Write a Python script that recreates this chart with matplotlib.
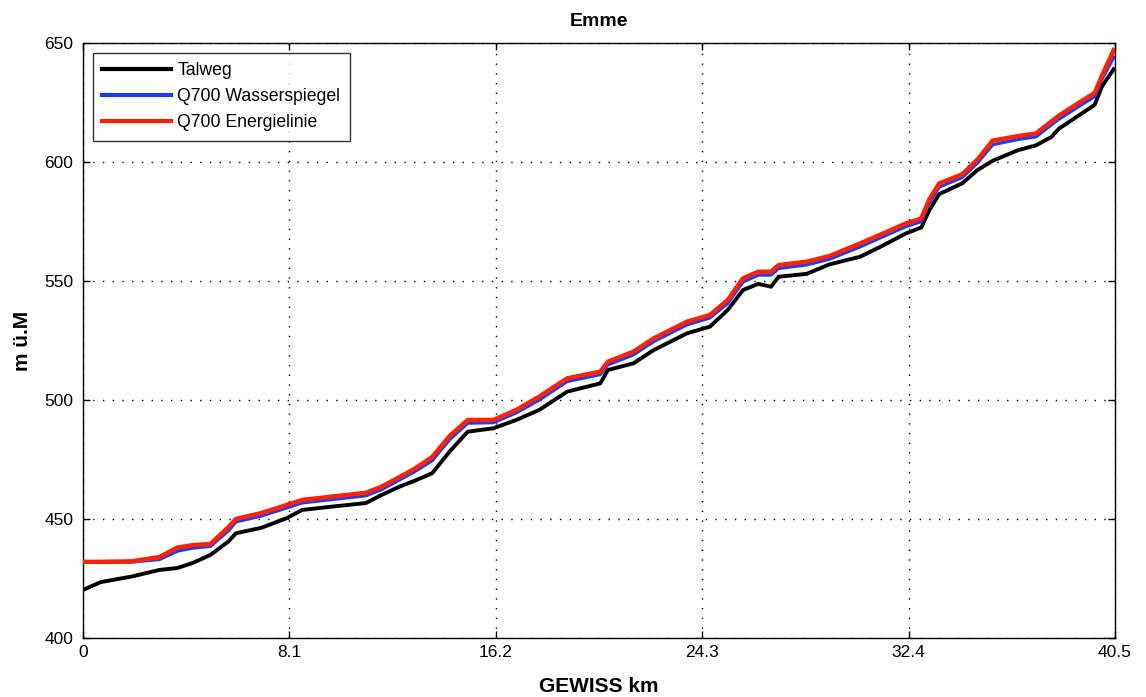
import matplotlib
matplotlib.use("Agg")
import matplotlib.pyplot as plt

km = [0, 0.7, 1.9, 3.0, 3.7, 4.3, 5.0, 5.7, 6.0, 7.0, 8.0, 8.6, 9.6, 11.1, 11.7,
      12.4, 13.0, 13.7, 14.4, 15.1, 16.1, 17.0, 17.9, 19.0, 20.3, 20.6, 21.6, 22.4,
      23.7, 24.6, 25.3, 25.9, 26.5, 27.0, 27.3, 28.4, 29.3, 30.5, 31.3, 32.3, 32.9,
      33.2, 33.6, 34.5, 35.1, 35.7, 36.7, 37.4, 38.0, 38.3, 39.1, 39.7, 40.0, 40.45]

talweg = [420.2, 423.5, 425.8, 428.6, 429.4, 431.5, 434.9, 440.5, 444.0, 446.3, 450.4,
          453.8, 455.0, 456.7, 460.0, 463.5, 466.0, 469.2, 478.5, 486.7, 488.1, 491.6,
          495.8, 503.5, 507.0, 512.6, 515.4, 521.0, 528.0, 530.8, 537.8, 546.2, 548.8,
          547.6, 551.8, 553.0, 557.0, 560.2, 564.4, 570.0, 572.5, 579.5, 586.5, 591.0,
          596.6, 600.5, 605.0, 607.0, 610.5, 614.0, 619.7, 624.0, 632.0, 639.0]

wasserspiegel = [431.9, 431.9, 431.9, 433.0, 436.5, 437.8, 438.5, 445.0, 448.8, 451.3,
                 454.7, 456.8, 458.0, 459.8, 462.3, 466.3, 469.8, 474.5, 483.5, 490.3,
                 490.5, 494.6, 500.0, 507.8, 510.7, 514.8, 519.0, 524.6, 531.6, 534.5,
                 540.6, 549.6, 552.5, 552.5, 555.3, 556.8, 559.2, 564.4, 568.2, 572.9,
                 575.0, 582.5, 589.5, 593.5, 599.6, 607.3, 609.5, 610.6, 615.6, 618.0,
                 623.5, 627.5, 635.0, 644.0]

energielinie = [432.0, 432.0, 432.2, 434.0, 438.0, 439.0, 439.5, 446.5, 450.0, 452.5,
                455.9, 458.0, 459.2, 461.0, 463.5, 467.5, 471.0, 476.0, 485.0, 491.6,
                491.6, 495.8, 501.4, 509.1, 511.9, 516.1, 520.3, 525.9, 532.9, 535.7,
                542.0, 551.1, 553.9, 553.9, 556.7, 558.1, 560.5, 565.8, 569.5, 574.2,
                576.3, 584.0, 591.0, 594.8, 601.0, 609.0, 610.9, 612.0, 617.0, 619.5,
                625.0, 629.0, 636.5, 647.0]

xticks = [0, 8.1, 16.2, 24.3, 32.4, 40.5]
xticklabels = ["0", "8.1", "16.2", "24.3", "32.4", "40.5"]
yticks = [400, 450, 500, 550, 600, 650]

plt.rcParams['font.family'] = ['Liberation Sans', 'DejaVu Sans']

fig = plt.figure(figsize=(11.46, 6.97), dpi=100)
ax = fig.add_axes([83/1146, 59/697, (1115-83)/1146, (638-43)/697])

ax.plot(km, talweg, color='black', lw=2.8, label='Talweg', zorder=3)
ax.plot(km, wasserspiegel, color='#1a3cff', lw=2.4, label='Q700 Wasserspiegel', zorder=4)
ax.plot(km, energielinie, color='#ff2200', lw=3.2, label='Q700 Energielinie', zorder=5)

ax.set_xlim(0, 40.5)
ax.set_ylim(400, 650)
ax.set_xticks(xticks)
ax.set_xticklabels(xticklabels)
ax.set_yticks(yticks)
ax.tick_params(direction='in', top=True, right=True, length=5, width=1, labelsize=12.5)
ax.tick_params(axis='y', pad=7)
ax.tick_params(axis='x', pad=5)
ax.grid(True, color='black', linestyle=(0, (1, 6)), linewidth=1)
for s in ax.spines.values():
    s.set_linewidth(1)

ax.set_title('Emme', fontsize=14, fontweight='bold', pad=12)
ax.set_xlabel('GEWISS km', fontsize=15, fontweight='bold', labelpad=12)
ax.set_ylabel('m ü.M', fontsize=15, fontweight='bold', labelpad=9)

leg = ax.legend(loc='upper left', fontsize=12.7, frameon=True, fancybox=False,
                edgecolor='black', handlelength=3.9, borderaxespad=0.55,
                borderpad=0.55, labelspacing=0.5, handletextpad=0.34)
leg.get_frame().set_linewidth(1)
for line in leg.get_lines():
    line.set_linewidth(3)

fig.savefig('out.png', dpi=100)
